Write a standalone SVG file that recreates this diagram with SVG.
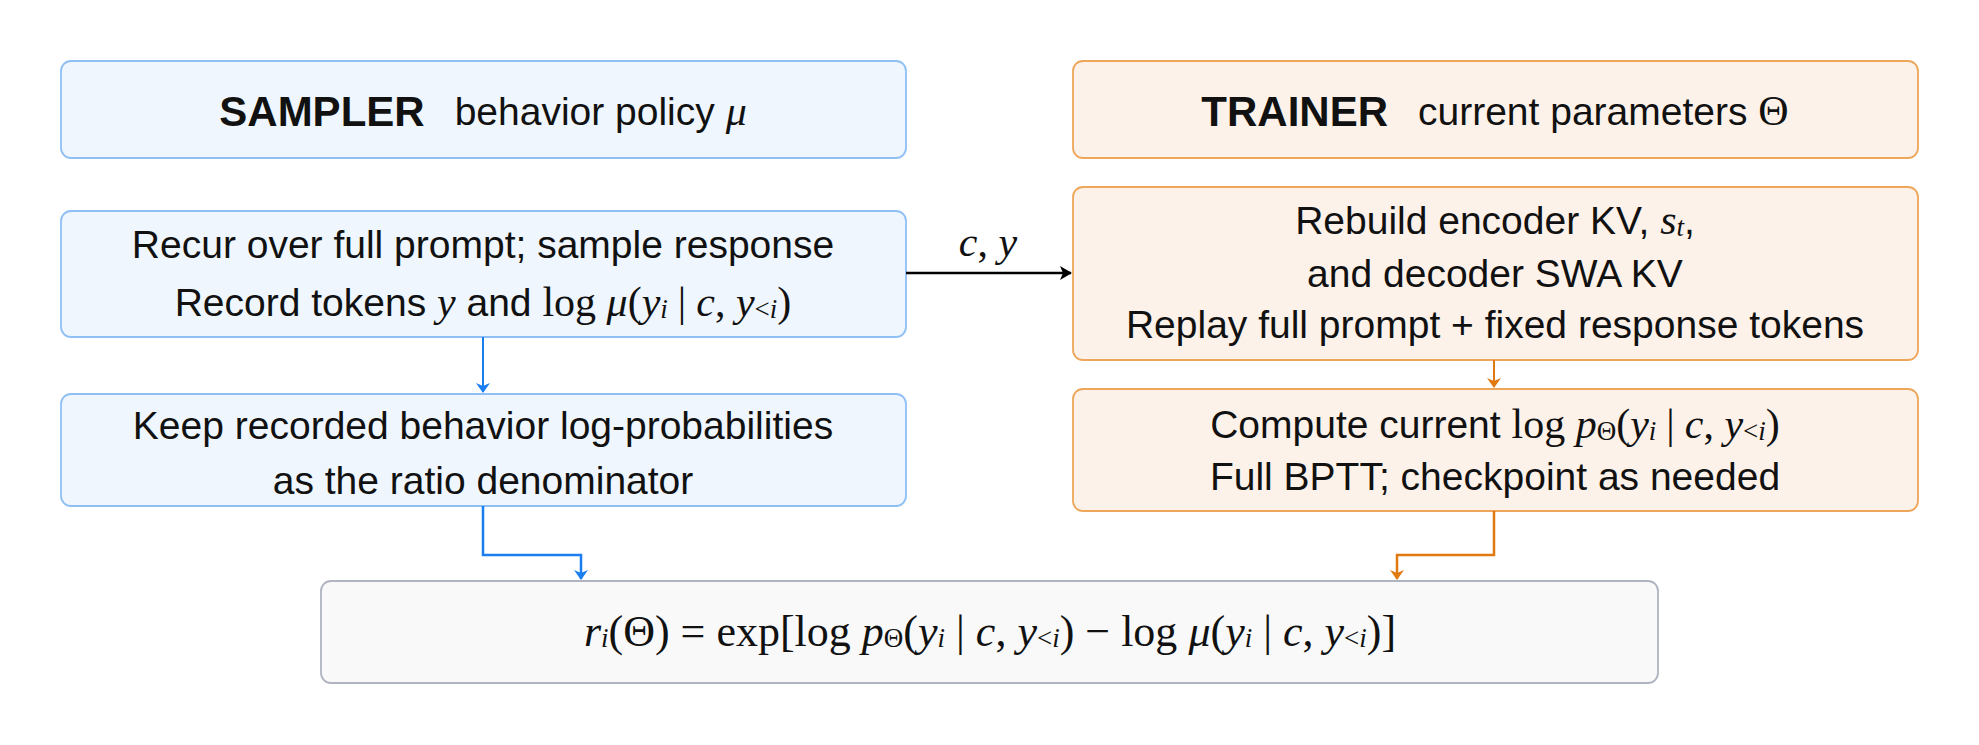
<svg xmlns="http://www.w3.org/2000/svg" width="1979" height="745" viewBox="0 0 1979 745">
<style>
.b{fill:#eff6fd;stroke:#8ec0f5;stroke-width:1.8}
.o{fill:#fdf2ea;stroke:#eea65a;stroke-width:1.8}
.g{fill:#f9f9fa;stroke:#b0b4c0;stroke-width:1.8}
text{font-family:"Liberation Sans",Arial,sans-serif;font-size:39px;fill:#111;text-anchor:middle;dominant-baseline:central}
.m{font-family:"Liberation Serif","Times New Roman",serif;font-style:italic;font-size:42px}
.r{font-family:"Liberation Serif","Times New Roman",serif;font-size:42px}
.t{font-weight:bold;font-size:42px}
.s{font-size:27px}
.f{font-size:44px}
</style>
<defs>
<marker id="ab" markerWidth="10" markerHeight="14" refX="9" refY="7" orient="auto" markerUnits="userSpaceOnUse"><path d="M0,0 L10,7 L0,14 L3,7 Z" fill="#1a7ef0"/></marker>
<marker id="ao" markerWidth="10" markerHeight="14" refX="9" refY="7" orient="auto" markerUnits="userSpaceOnUse"><path d="M0,0 L10,7 L0,14 L3,7 Z" fill="#e07a10"/></marker>
<marker id="ak" markerWidth="12" markerHeight="14" refX="11" refY="7" orient="auto" markerUnits="userSpaceOnUse"><path d="M0,0 L12,7 L0,14 L3,7 Z" fill="#000"/></marker>
</defs>
<g id="sampler"><rect class="b" x="61" y="61" width="845" height="97" rx="10"/>
<text x="483" y="111"><tspan class="t">SAMPLER</tspan><tspan dx="30">behavior policy </tspan><tspan class="m">μ</tspan></text></g>
<g id="trainer"><rect class="o" x="1073" y="61" width="845" height="97" rx="10"/>
<text x="1495" y="111"><tspan class="t">TRAINER</tspan><tspan dx="30">current parameters </tspan><tspan class="r">Θ</tspan></text></g>
<g id="recur"><rect class="b" x="61" y="211" width="845" height="126" rx="10"/>
<text x="483" y="244">Recur over full prompt; sample response</text>
<text x="483" y="302">Record tokens <tspan class="m">y</tspan> and <tspan class="r">log </tspan><tspan class="m">μ</tspan><tspan class="r">(</tspan><tspan class="m">y</tspan><tspan class="s m" dy="7">i</tspan><tspan dy="-7" class="r" dx="10">|</tspan><tspan class="m" dx="10">c</tspan><tspan class="r">, </tspan><tspan class="m">y</tspan><tspan class="s r" dy="7">&lt;</tspan><tspan class="s m">i</tspan><tspan class="r" dy="-7">)</tspan></text></g>
<g id="rebuild"><rect class="o" x="1073" y="187" width="845" height="173" rx="10"/>
<text x="1495" y="220">Rebuild encoder KV, <tspan class="m">s</tspan><tspan class="s m" dy="7">t</tspan><tspan dy="-7">,</tspan></text>
<text x="1495" y="273">and decoder SWA KV</text>
<text x="1495" y="324">Replay full prompt + fixed response tokens</text></g>
<g id="keep"><rect class="b" x="61" y="394" width="845" height="112" rx="10"/>
<text x="483" y="425">Keep recorded behavior log-probabilities</text>
<text x="483" y="480">as the ratio denominator</text></g>
<g id="compute"><rect class="o" x="1073" y="389" width="845" height="122" rx="10"/>
<text x="1495" y="424">Compute current <tspan class="r">log </tspan><tspan class="m">p</tspan><tspan class="s r" dy="7">Θ</tspan><tspan class="r" dy="-7">(</tspan><tspan class="m">y</tspan><tspan class="s m" dy="7">i</tspan><tspan dy="-7" class="r" dx="10">|</tspan><tspan class="m" dx="10">c</tspan><tspan class="r">, </tspan><tspan class="m">y</tspan><tspan class="s r" dy="7">&lt;</tspan><tspan class="s m">i</tspan><tspan class="r" dy="-7">)</tspan></text>
<text x="1495" y="476">Full BPTT; checkpoint as needed</text></g>
<g id="ratio"><rect class="g" x="321" y="581" width="1337" height="102" rx="10"/>
<text x="990" y="631" class="r f"><tspan class="m f">r</tspan><tspan class="s m" dy="7">i</tspan><tspan dy="-7" class="f">(Θ) = exp[log </tspan><tspan class="m f">p</tspan><tspan class="s" dy="7">Θ</tspan><tspan dy="-7" class="f">(</tspan><tspan class="m f">y</tspan><tspan class="s m" dy="7">i</tspan><tspan dy="-7" class="f"> | </tspan><tspan class="m f">c</tspan><tspan class="f">, </tspan><tspan class="m f">y</tspan><tspan class="s" dy="7">&lt;</tspan><tspan class="s m">i</tspan><tspan dy="-7" class="f">) − log </tspan><tspan class="m f">μ</tspan><tspan class="f">(</tspan><tspan class="m f">y</tspan><tspan class="s m" dy="7">i</tspan><tspan dy="-7" class="f"> | </tspan><tspan class="m f">c</tspan><tspan class="f">, </tspan><tspan class="m f">y</tspan><tspan class="s" dy="7">&lt;</tspan><tspan class="s m">i</tspan><tspan dy="-7" class="f">)]</tspan></text></g>
<g id="connectors" fill="none">
<path d="M906,273 H1071" stroke="#000" stroke-width="2.5" marker-end="url(#ak)"/>
<text x="988" y="242"><tspan class="m">c</tspan><tspan class="r">, </tspan><tspan class="m">y</tspan></text>
<path d="M483,337 V392" stroke="#1a7ef0" stroke-width="2" marker-end="url(#ab)"/>
<path d="M1494,360 V387" stroke="#e07a10" stroke-width="2" marker-end="url(#ao)"/>
<path d="M483,506 V555 H581 V579" stroke="#1a7ef0" stroke-width="2.5" marker-end="url(#ab)"/>
<path d="M1494,511 V555 H1397 V579" stroke="#e07a10" stroke-width="2.5" marker-end="url(#ao)"/>
</g>
</svg>
